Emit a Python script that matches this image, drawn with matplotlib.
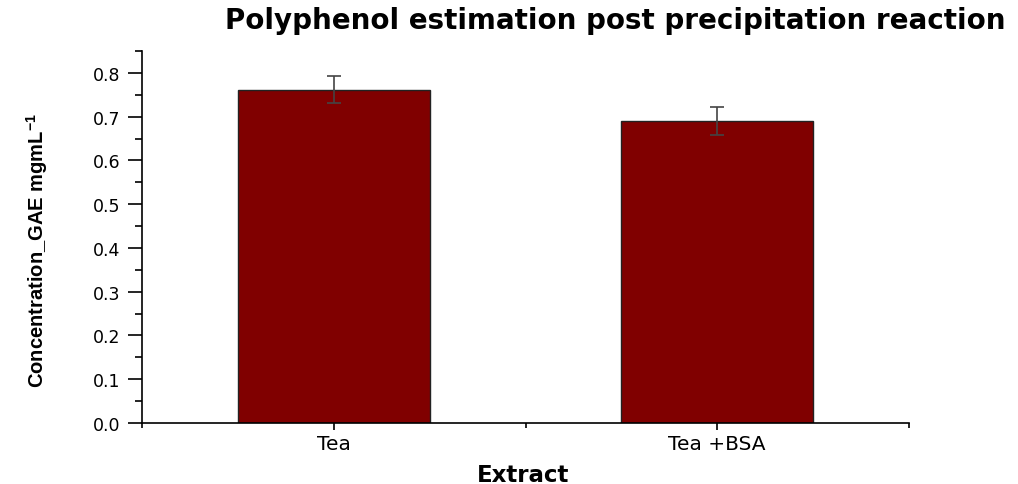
import matplotlib
matplotlib.use("Agg")
import matplotlib.pyplot as plt
from matplotlib.ticker import MultipleLocator

plt.rcParams["mathtext.fontset"] = "custom"
plt.rcParams["mathtext.rm"] = "Liberation Sans"
plt.rcParams["mathtext.bf"] = "Liberation Sans:bold"
plt.rcParams["mathtext.default"] = "bf"

categories = ["Tea", "Tea +BSA"]
values = [0.762, 0.691]
errors = [0.030, 0.032]
yticks = [0.0, 0.1, 0.2, 0.3, 0.4, 0.5, 0.6, 0.7, 0.8]

fig = plt.figure(figsize=(10.18, 4.85), dpi=100)
ax = fig.add_axes([142/1018, 61/485, (909-142)/1018, (424-52)/485])

x = [1, 2]
ax.bar(x, values, width=0.5, color="#800000", edgecolor="#222222", linewidth=1.0, zorder=2)
ax.errorbar(x, values, yerr=errors, fmt="none", ecolor="#444444", elinewidth=1.2,
            capsize=4.7, capthick=1.2, zorder=3)

ax.set_xlim(0.5, 2.5)
ax.set_ylim(0, 0.85)
ax.set_xticks(x)
ax.set_xticklabels(categories, fontsize=14.5, family="DejaVu Sans")
ax.xaxis.set_minor_locator(MultipleLocator(0.5))
ax.set_yticks(yticks)
ax.set_yticklabels([f"{v:.1f}" for v in yticks], fontsize=12.5, family="DejaVu Sans")
ax.yaxis.set_minor_locator(MultipleLocator(0.05))
ax.tick_params(axis="y", which="major", length=10, width=1.2, direction="out", pad=5.5)
ax.tick_params(axis="y", which="minor", length=5, width=1.2, direction="out")
ax.tick_params(axis="x", which="major", length=5, width=1.2, direction="out", pad=3)
ax.tick_params(axis="x", which="minor", length=3.5, width=1.2, direction="out")
for s in ["top", "right"]:
    ax.spines[s].set_visible(False)
for s in ["left", "bottom"]:
    ax.spines[s].set_linewidth(1.2)

fig.text(523/1018, 1 - 482/485, "Extract", ha="center", va="baseline",
         fontsize=16.5, fontweight="bold", family="DejaVu Sans")
fig.text(37/1018, 1 - 250/485, "Concentration_GAE mgmL$^{-1}$", rotation=90, ha="center", va="center",
         fontsize=14.5, fontweight="bold", family="Liberation Sans")
fig.text(615/1018, 1 - 29/485, "Polyphenol estimation post precipitation reaction",
         ha="center", va="baseline", fontsize=20, fontweight="bold", family="DejaVu Sans")

fig.savefig("out.png", dpi=100)
